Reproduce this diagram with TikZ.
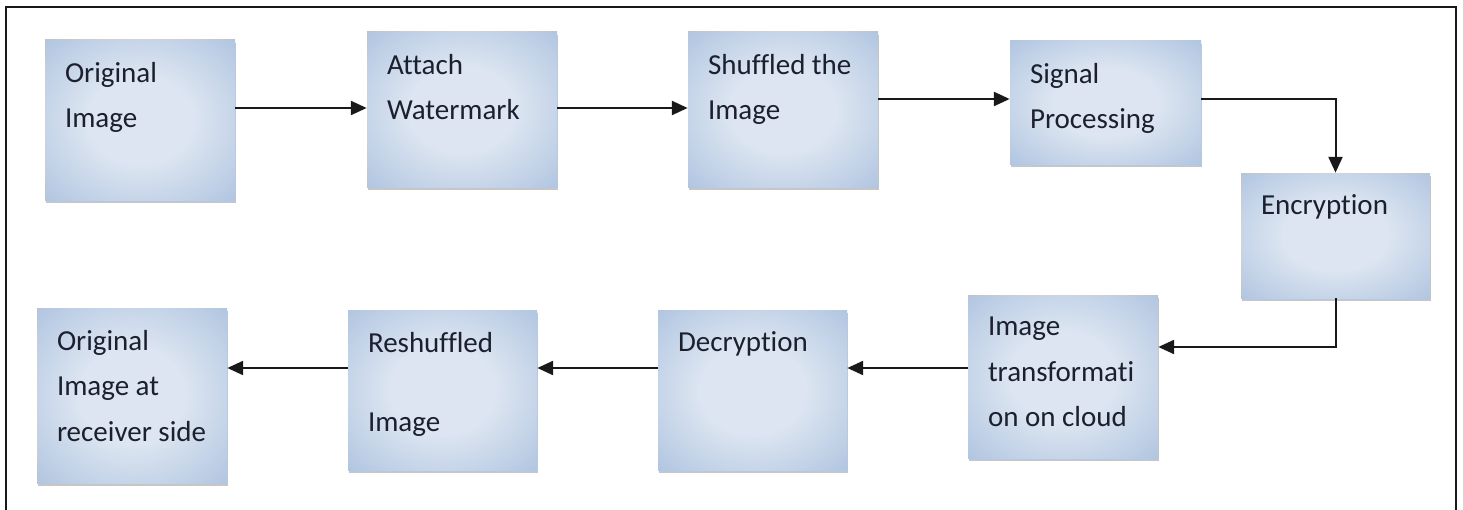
\documentclass[tikz,border=0pt]{standalone}
\usepackage{fontspec}
\setmainfont[Ligatures=NoCommon]{Carlito}
\usepackage{xcolor}
\usepackage{tikz}
\usetikzlibrary{arrows.meta,calc,fit,shadows}
\definecolor{boxedge}{RGB}{132,164,207}
\definecolor{boxmid}{RGB}{220,229,241}
\definecolor{textcol}{RGB}{28,32,46}
\pgfdeclareradialshading{boxshade}{\pgfpoint{0bp}{0bp}}{%
  color(0bp)=(boxmid); color(14bp)=(boxmid); color(58bp)=(boxedge); color(72bp)=(boxedge)}
\tikzset{
  stagebox/.style={inner sep=0pt,draw=none,shading=boxshade,
    drop shadow={shadow xshift=0.8pt,shadow yshift=-1.6pt,opacity=0.45}},
  stagetext/.style={anchor=north west,inner sep=0pt,align=left,
    font=\fontsize{16.5}{26}\selectfont,text=textcol},
  flow/.style={line width=0.04cm,draw=black!90,-{Triangle[length=9pt,width=8pt]}},
  frame/.style={line width=0.035cm,draw=black!90}
}
\newcommand{\stage}[6]{%
  \node[stagebox,fit={(#2,#3) (#4,#5)}] (#1) {};%
  \node[stagetext] (#1txt) at ([shift={(20,22)}]#1.north west) {#6};%
}

\begin{document}
\begin{tikzpicture}[x=0.02cm,y=-0.02cm]
  \useasboundingbox (0,0) rectangle (1463,510);
  \draw[frame] (6,510) -- (6,7) -- (1456,7) -- (1456,510);
  % arrow levels
  \coordinate (toprow) at (0,108);
  \coordinate (sigrow) at (0,99);
  \coordinate (turnrow) at (0,347);
  \coordinate (botrow) at (0,368);
  % top row
  \stage{orig}{45}{40}{235}{200}{Original\\Image}
  \stage{attach}{367}{32}{557}{187}{Attach\\Watermark}
  \stage{shuffle}{688}{32}{878}{187}{Shuffled the\\Image}
  \stage{signal}{1010}{41}{1201}{164}{Signal\\Processing}
  \stage{encrypt}{1241}{173}{1430}{298}{Encryption}
  % bottom row
  \stage{transform}{968}{295}{1158}{458}{Image\\transformati\\on on cloud}
  \stage{decrypt}{658}{310}{847}{470}{Decryption}
  \stage{reshuffle}{348}{310}{537}{470}{Reshuffled\\[0.68cm]Image}
  \stage{received}{37}{308}{227}{483}{Original\\Image at\\receiver side}
  % connectors
  \draw[flow] (orig.east |- toprow) -- (attach.west |- toprow);
  \draw[flow] (attach.east |- toprow) -- (shuffle.west |- toprow);
  \draw[flow] (shuffle.east |- sigrow) -- (signal.west |- sigrow);
  \draw[flow] (signal.east |- sigrow) -| (encrypt.north);
  \draw[flow] (encrypt.south) |- (transform.east |- turnrow);
  \draw[flow] (transform.west |- botrow) -- (decrypt.east |- botrow);
  \draw[flow] (decrypt.west |- botrow) -- (reshuffle.east |- botrow);
  \draw[flow] (reshuffle.west |- botrow) -- (received.east |- botrow);
\end{tikzpicture}
\end{document}
